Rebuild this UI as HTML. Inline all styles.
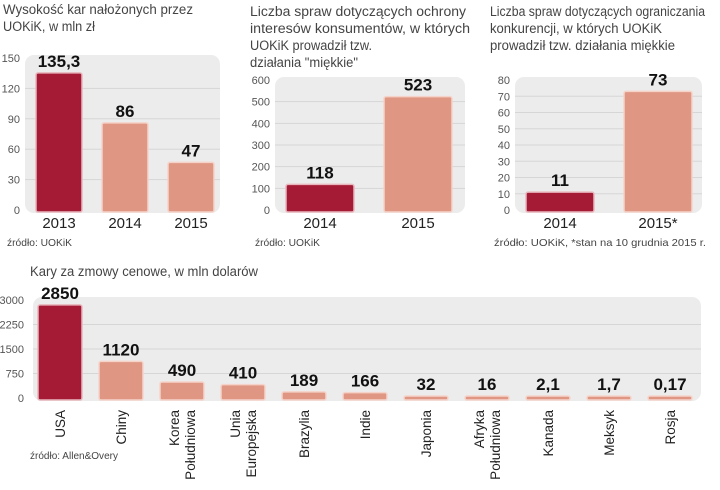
<!DOCTYPE html>
<html><head><meta charset="utf-8"><style>
body{margin:0;background:#fff}
svg{display:block;font-family:"Liberation Sans",sans-serif}
.ttl{font-size:13.5px;fill:#444}
.tick{font-size:11px;fill:#555}
.val{font-size:17px;font-weight:bold;fill:#111}
.cat{font-size:15px;fill:#222}
.src{font-size:10.5px;fill:#444}
</style></head><body>
<svg id="c" width="720" height="490" viewBox="0 0 720 490">
<text class="ttl" x="3" y="14" textLength="190" lengthAdjust="spacingAndGlyphs">Wysokość kar nałożonych przez</text>
<text class="ttl" x="3" y="31" textLength="92" lengthAdjust="spacingAndGlyphs">UOKiK, w mln zł</text>
<text class="src" x="7" y="246" textLength="65" lengthAdjust="spacingAndGlyphs">źródło: UOKiK</text>
<text class="ttl" x="250" y="16" textLength="216" lengthAdjust="spacingAndGlyphs">Liczba spraw dotyczących ochrony</text>
<text class="ttl" x="250" y="33" textLength="220" lengthAdjust="spacingAndGlyphs">interesów konsumentów, w których</text>
<text class="ttl" x="250" y="50" textLength="122" lengthAdjust="spacingAndGlyphs">UOKiK prowadził tzw.</text>
<text class="ttl" x="250" y="67" textLength="108" lengthAdjust="spacingAndGlyphs">działania "miękkie"</text>
<text class="src" x="255" y="246" textLength="65" lengthAdjust="spacingAndGlyphs">źródło: UOKiK</text>
<text class="ttl" x="490" y="16" textLength="215" lengthAdjust="spacingAndGlyphs">Liczba spraw dotyczących ograniczania</text>
<text class="ttl" x="490" y="33" textLength="172" lengthAdjust="spacingAndGlyphs">konkurencji, w których UOKiK</text>
<text class="ttl" x="490" y="50" textLength="185" lengthAdjust="spacingAndGlyphs">prowadził tzw. działania miękkie</text>
<text class="src" x="494" y="246" textLength="212" lengthAdjust="spacingAndGlyphs">źródło: UOKiK, *stan na 10 grudnia 2015 r.</text>
<text class="ttl" x="30" y="276" textLength="228" lengthAdjust="spacingAndGlyphs">Kary za zmowy cenowe, w mln dolarów</text>
<text class="src" x="30" y="459" textLength="88" lengthAdjust="spacingAndGlyphs">źródło: Allen&amp;Overy</text>
</svg>
<script>
const c1Cats=["2013","2014","2015"];
const c1Vals=[135.3,86,47];
const c1Labels=["135,3","86","47"];
const c1Ticks=[0,30,60,90,120,150];
const c2Cats=["2014","2015"];
const c2Vals=[118,523];
const c2Labels=["118","523"];
const c2Ticks=[0,100,200,300,400,500,600];
const c3Cats=["2014","2015*"];
const c3Vals=[11,73];
const c3Labels=["11","73"];
const c3Ticks=[0,10,20,30,40,50,60,70,80];
const c4Cats=[["USA"],["Chiny"],["Korea","Południowa"],["Unia","Europejska"],["Brazylia"],["Indie"],["Japonia"],["Afryka","Południowa"],["Kanada"],["Meksyk"],["Rosja"]];
const c4Vals=[2850,1120,490,410,189,166,32,16,2.1,1.7,0.17];
const c4Labels=["2850","1120","490","410","189","166","32","16","2,1","1,7","0,17"];
const c4Ticks=[0,750,1500,2250,3000];

const svg=document.getElementById('c');
const NS="http://www.w3.org/2000/svg";
function mk(tag,attrs,txt){const e=document.createElementNS(NS,tag);for(const k in attrs)e.setAttribute(k,attrs[k]);if(txt!==undefined)e.textContent=txt;svg.appendChild(e);return e;}

function chart(id,cats,vals,labels,ticks,o){
  const max=ticks[ticks.length-1];
  const y=v=>o.base-(v/max)*(o.base-o.top);
  const p=mk('rect',{x:o.px0,y:o.top-3,width:o.px1-o.px0,height:o.base-o.top+6,rx:9,fill:'#ececec'});
  
  
  ticks.forEach(t=>{
    if(t>0&&t<max){const g=mk('line',{x1:o.px0,x2:o.px1,y1:y(t),y2:y(t),stroke:'#d6d6d6','stroke-width':1});
      
      }
    const tl=mk('text',{class:'tick',x:o.tx,y:y(t)+4,'text-anchor':'end'},String(t));
    
    
  });
  cats.forEach((cat,i)=>{
    const cx=o.c0+i*o.step;
    const yt=Math.min(y(vals[i]),o.base-2);
    const b=mk('rect',{x:cx-o.bw/2,y:yt,width:o.bw,height:o.base+2-yt,rx:2,fill:i==0&&o.first?'#a51b36':'#df9783',stroke:i==0&&o.first?'#e8b7bd':'#f5d3c9','stroke-width':1.5});
    
    
    const v=mk('text',{class:'val',x:cx,y:yt-6,'text-anchor':'middle'},labels[i]);
    
    
    if(o.rot){
      cat.forEach((ln,j)=>{
        const xx=cx+5-(cat.length-1)*8+j*16;
        const t=mk('text',{class:'cat','text-anchor':'end',transform:`translate(${xx},${o.base+12}) rotate(-90)`,style:'font-size:13.5px'},ln);
        
        
      });
    }else{
      const t=mk('text',{class:'cat',x:cx,y:o.base+18,'text-anchor':'middle'},cat);
      
      
    }
  });
}
chart('chart1',c1Cats,c1Vals,c1Labels,c1Ticks,{base:210,top:58,px0:25,px1:220,tx:20,c0:59,step:66,bw:46,first:true});
chart('chart2',c2Cats,c2Vals,c2Labels,c2Ticks,{base:210,top:80,px0:275,px1:465,tx:270,c0:320,step:98,bw:68,first:true});
chart('chart3',c3Cats,c3Vals,c3Labels,c3Ticks,{base:210,top:80,px0:515,px1:702,tx:510,c0:560,step:98,bw:68,first:true});
chart('chart4',c4Cats,c4Vals,c4Labels,c4Ticks,{base:398,top:300,px0:33,px1:701,tx:24,c0:60,step:61,bw:44,first:true,rot:true});
</script>
</body></html>
